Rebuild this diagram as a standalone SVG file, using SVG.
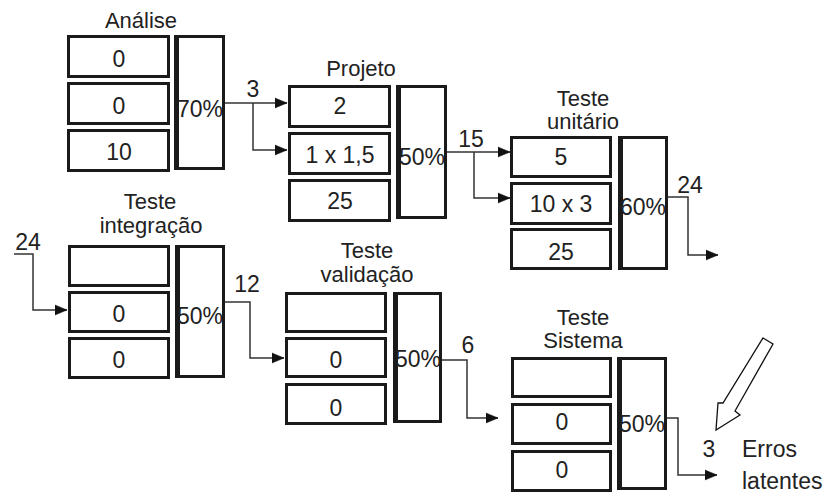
<svg xmlns="http://www.w3.org/2000/svg" width="835" height="493" viewBox="0 0 835 493">
<style>
  .b { fill: #fff; stroke: #1a1a1a; stroke-width: 3; }
  .p { fill: #fff; stroke: #1a1a1a; stroke-width: 3; }
  .pl { stroke: #1a1a1a; stroke-width: 2; }
  .t { font-family: "Liberation Sans", Arial, sans-serif; font-size: 23px; fill: #222; text-anchor: middle; }
  .h { font-family: "Liberation Sans", Arial, sans-serif; font-size: 22px; fill: #222; text-anchor: middle; }
  .l { font-family: "Liberation Sans", Arial, sans-serif; font-size: 23px; fill: #222; }
  .ca { fill: none; stroke: #333; stroke-width: 1.5; marker-end: url(#ah); }
</style>
<defs>
  <marker id="ah" markerUnits="userSpaceOnUse" markerWidth="14" markerHeight="12" refX="12" refY="6" orient="auto">
    <path d="M0,1 L12,6 L0,11 z" fill="#111" stroke="#111" stroke-width="0.5"/>
  </marker>
</defs>
<rect width="835" height="493" fill="#fff"/>

<g id="analise">
  <text class="h" x="141" y="28">Análise</text>
  <rect class="b" x="68.5" y="36.5" width="100" height="40"/>
  <rect class="b" x="68.5" y="83.5" width="100" height="40"/>
  <rect class="b" x="68.5" y="130.5" width="100" height="40"/>
  <rect class="p" x="175.5" y="36.5" width="48" height="132"/>
  <line class="pl" x1="178" y1="37" x2="178" y2="168"/>
  <text class="t" x="119" y="67">0</text>
  <text class="t" x="119" y="114">0</text>
  <text class="t" x="119" y="160">10</text>
  <text class="t" x="200" y="117">70%</text>
</g>

<g id="projeto">
  <text class="h" x="361" y="76">Projeto</text>
  <rect class="b" x="289.5" y="86.5" width="100" height="40"/>
  <rect class="b" x="289.5" y="133.5" width="100" height="40"/>
  <rect class="b" x="289.5" y="180.5" width="100" height="40"/>
  <rect class="p" x="397.5" y="86.5" width="48" height="131"/>
  <line class="pl" x1="400" y1="87" x2="400" y2="217"/>
  <text class="t" x="340" y="114">2</text>
  <text class="t" x="340" y="163">1 x 1,5</text>
  <text class="t" x="340" y="209">25</text>
  <text class="t" x="422" y="165">50%</text>
</g>

<g id="teste-unitario">
  <text class="h" x="583" y="106">Teste</text>
  <text class="h" x="583" y="129">unitário</text>
  <rect class="b" x="511.5" y="137.5" width="99" height="39"/>
  <rect class="b" x="511.5" y="183.5" width="99" height="40"/>
  <rect class="b" x="511.5" y="229.5" width="99" height="39"/>
  <rect class="p" x="619.5" y="137.5" width="47" height="131"/>
  <line class="pl" x1="622" y1="138" x2="622" y2="268"/>
  <text class="t" x="561" y="165">5</text>
  <text class="t" x="561" y="212">10 x 3</text>
  <text class="t" x="561" y="260">25</text>
  <text class="t" x="643" y="215">60%</text>
</g>

<g id="teste-integracao">
  <text class="h" x="150" y="209">Teste</text>
  <text class="h" x="151" y="233">integração</text>
  <rect class="b" x="69.5" y="246.5" width="99" height="39"/>
  <rect class="b" x="69.5" y="292.5" width="99" height="39"/>
  <rect class="b" x="69.5" y="338.5" width="99" height="39"/>
  <rect class="p" x="176.5" y="246.5" width="47" height="130"/>
  <line class="pl" x1="179" y1="247" x2="179" y2="376"/>
  <text class="t" x="119" y="322">0</text>
  <text class="t" x="119" y="368">0</text>
  <text class="t" x="200" y="324">50%</text>
</g>

<g id="teste-validacao">
  <text class="h" x="367" y="258">Teste</text>
  <text class="h" x="367" y="282">validação</text>
  <rect class="b" x="286.5" y="293.5" width="99" height="38"/>
  <rect class="b" x="286.5" y="338.5" width="99" height="38"/>
  <rect class="b" x="286.5" y="384.5" width="99" height="39"/>
  <rect class="p" x="394.5" y="293.5" width="46" height="128"/>
  <line class="pl" x1="397" y1="294" x2="397" y2="421"/>
  <text class="t" x="336" y="368">0</text>
  <text class="t" x="336" y="416">0</text>
  <text class="t" x="418" y="367">50%</text>
</g>

<g id="teste-sistema">
  <text class="h" x="583" y="325">Teste</text>
  <text class="h" x="583" y="348">Sistema</text>
  <rect class="b" x="512.5" y="358.5" width="98" height="38"/>
  <rect class="b" x="512.5" y="404.5" width="98" height="39"/>
  <rect class="b" x="512.5" y="451.5" width="98" height="39"/>
  <rect class="p" x="618.5" y="358.5" width="47" height="130"/>
  <line class="pl" x1="621" y1="359" x2="621" y2="488"/>
  <text class="t" x="562" y="430">0</text>
  <text class="t" x="562" y="478">0</text>
  <text class="t" x="642" y="432">50%</text>
</g>

<g id="connectors">
  <polyline class="ca" points="225,103 287,103"/>
  <polyline class="ca" points="253,103 253,150 287,150"/>
  <text class="t" x="253" y="97">3</text>

  <polyline class="ca" points="447,152 510,152"/>
  <polyline class="ca" points="474,152 474,198 510,198"/>
  <text class="t" x="471" y="147">15</text>

  <polyline class="ca" points="668,197 688,197 688,255 718,255"/>
  <text class="t" x="690" y="193">24</text>

  <polyline class="ca" points="14,254 33,254 33,310 67,310"/>
  <text class="t" x="28" y="250">24</text>

  <polyline class="ca" points="225,302 250,302 250,358 284,358"/>
  <text class="t" x="247" y="292">12</text>

  <polyline class="ca" points="442,360 467,360 467,418 498,418"/>
  <text class="t" x="468" y="353">6</text>

  <polyline class="ca" points="667,418 678,418 678,475 717,475"/>
  <text class="t" x="709" y="457">3</text>
</g>

<g id="erros-latentes">
  <text class="l" x="742" y="457">Erros</text>
  <text class="l" x="742" y="489">latentes</text>
  <polygon points="763,338 773,344 735,411 740,415 716,430 718,403 723,403" fill="#fff" stroke="#111" stroke-width="1.3" stroke-linejoin="miter"/>
</g>
</svg>
